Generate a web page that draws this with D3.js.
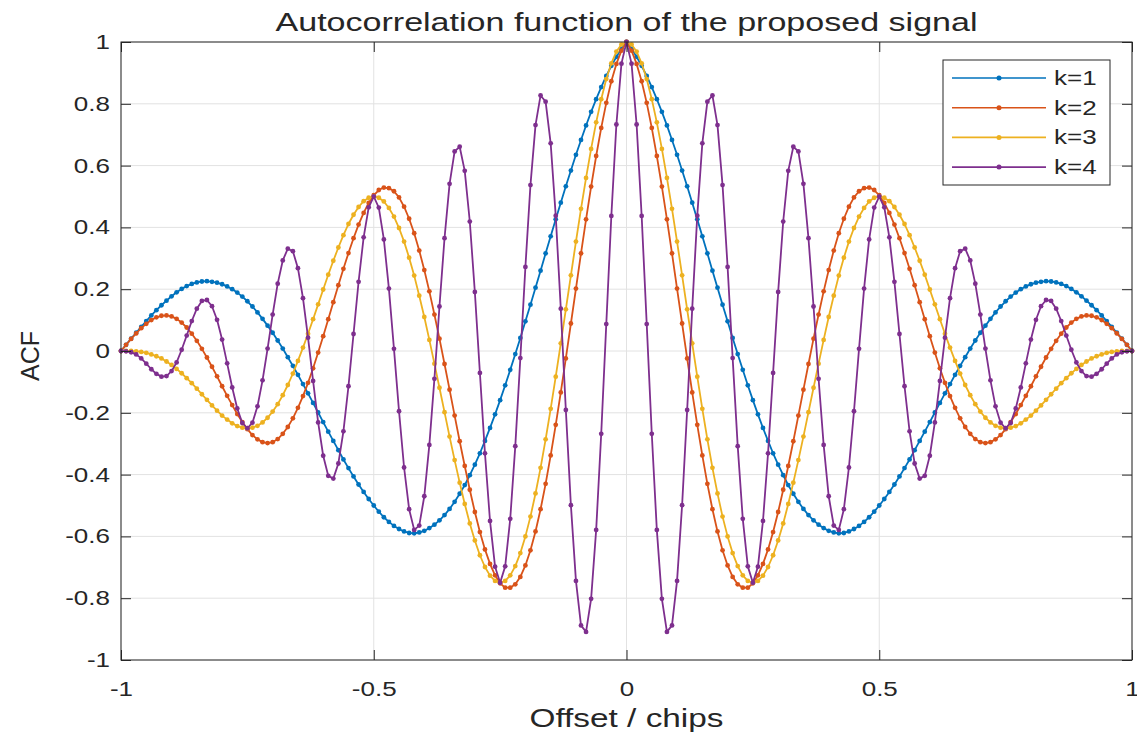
<!DOCTYPE html>
<html>
<head>
<meta charset="utf-8">
<script src="https://cdn.jsdelivr.net/npm/d3@7"></script>
<style>
  html, body { margin: 0; padding: 0; background: #fff; }
  svg text { font-family: "Liberation Sans", Arial, sans-serif; fill: #262626; }
</style>
</head>
<body>
<svg id="chart" width="1137" height="736"></svg>
<script>
// ===================================================================
// ACF of the proposed signal, k = 1..4
// ===================================================================
const TITLE = 'Autocorrelation function of the proposed signal';
const X_LABEL = 'Offset / chips';
const Y_LABEL = 'ACF';

const X_TICKS = [-1, -0.5, 0, 0.5, 1];
const Y_TICKS = [-1, -0.8, -0.6, -0.4, -0.2, 0, 0.2, 0.4, 0.6, 0.8, 1];

const SERIES_NAMES = ['k=1', 'k=2', 'k=3', 'k=4'];

// sample spacing of the offset axis (chips)
const OFFSET_STEP = 0.01;

const ACF_K1 = [
  1.000, 0.978, 0.952, 0.923, 0.890, 0.854, 0.815, 0.774, 0.730, 0.683,
  0.635, 0.584, 0.533, 0.480, 0.426, 0.371, 0.316, 0.260, 0.205, 0.150,
  0.096, 0.042, -0.010, -0.061, -0.111, -0.159, -0.205, -0.249, -0.291, -0.331,
  -0.368, -0.402, -0.434, -0.462, -0.488, -0.511, -0.531, -0.548, -0.562, -0.573,
  -0.582, -0.587, -0.590, -0.589, -0.584, -0.576, -0.566, -0.553, -0.538, -0.520,
  -0.500, -0.479, -0.456, -0.432, -0.406, -0.379, -0.351, -0.321, -0.291, -0.261,
  -0.230, -0.199, -0.168, -0.137, -0.107, -0.077, -0.048, -0.020, 0.008, 0.034,
  0.059, 0.082, 0.104, 0.125, 0.144, 0.161, 0.176, 0.189, 0.200, 0.209,
  0.216, 0.221, 0.224, 0.226, 0.225, 0.222, 0.217, 0.210, 0.201, 0.190,
  0.177, 0.163, 0.148, 0.132, 0.115, 0.097, 0.078, 0.059, 0.040, 0.020,
  0.000
];
const ACF_K2 = [
  1.000, 0.972, 0.929, 0.873, 0.803, 0.722, 0.631, 0.532, 0.426, 0.316,
  0.202, 0.089, -0.024, -0.134, -0.239, -0.338, -0.430, -0.512, -0.584, -0.645,
  -0.694, -0.731, -0.755, -0.766, -0.766, -0.752, -0.726, -0.689, -0.642, -0.586,
  -0.521, -0.449, -0.372, -0.292, -0.209, -0.125, -0.042, 0.040, 0.118, 0.193,
  0.262, 0.325, 0.381, 0.428, 0.467, 0.497, 0.517, 0.527, 0.529, 0.521,
  0.504, 0.479, 0.447, 0.409, 0.365, 0.317, 0.266, 0.213, 0.158, 0.103,
  0.048, -0.005, -0.056, -0.103, -0.146, -0.184, -0.218, -0.246, -0.268, -0.285,
  -0.295, -0.298, -0.295, -0.286, -0.272, -0.253, -0.230, -0.204, -0.175, -0.145,
  -0.114, -0.082, -0.051, -0.021, 0.007, 0.033, 0.056, 0.076, 0.092, 0.104,
  0.112, 0.115, 0.114, 0.109, 0.100, 0.088, 0.074, 0.057, 0.039, 0.020,
  0.000
];
const ACF_K3 = [
  1.000, 0.992, 0.969, 0.931, 0.880, 0.815, 0.740, 0.654, 0.560, 0.460,
  0.354, 0.245, 0.135, 0.025, -0.083, -0.187, -0.286, -0.378, -0.461, -0.536,
  -0.600, -0.654, -0.696, -0.726, -0.744, -0.750, -0.744, -0.727, -0.699, -0.661,
  -0.613, -0.558, -0.495, -0.426, -0.353, -0.277, -0.198, -0.119, -0.041, 0.036,
  0.110, 0.179, 0.244, 0.302, 0.354, 0.398, 0.435, 0.463, 0.484, 0.496,
  0.500, 0.496, 0.485, 0.466, 0.441, 0.411, 0.375, 0.335, 0.292, 0.247,
  0.199, 0.151, 0.103, 0.056, 0.011, -0.032, -0.073, -0.110, -0.143, -0.172,
  -0.196, -0.216, -0.231, -0.242, -0.248, -0.250, -0.248, -0.243, -0.234, -0.222,
  -0.209, -0.193, -0.176, -0.158, -0.140, -0.122, -0.104, -0.088, -0.072, -0.058,
  -0.045, -0.034, -0.024, -0.017, -0.011, -0.006, -0.003, -0.001, 0.000, 0.000,
  0.000
];
const ACF_K4 = [
  1.000, 0.930, 0.733, 0.437, 0.087, -0.268, -0.579, -0.802, -0.909, -0.888,
  -0.744, -0.499, -0.191, 0.137, 0.438, 0.672, 0.807, 0.827, 0.731, 0.537,
  0.272, -0.023, -0.308, -0.543, -0.697, -0.750, -0.698, -0.550, -0.331, -0.071,
  0.191, 0.419, 0.583, 0.661, 0.646, 0.541, 0.365, 0.144, -0.090, -0.304,
  -0.470, -0.565, -0.579, -0.512, -0.377, -0.195, 0.007, 0.202, 0.361, 0.464,
  0.500, 0.465, 0.368, 0.224, 0.055, -0.114, -0.260, -0.364, -0.413, -0.404,
  -0.339, -0.231, -0.097, 0.043, 0.171, 0.268, 0.323, 0.331, 0.293, 0.218,
  0.118, 0.008, -0.095, -0.179, -0.232, -0.250, -0.233, -0.186, -0.118, -0.040,
  0.037, 0.101, 0.145, 0.165, 0.162, 0.137, 0.097, 0.050, 0.004, -0.037,
  -0.065, -0.081, -0.083, -0.074, -0.059, -0.041, -0.024, -0.011, -0.004, -0.001,
  0.000
];

const COLORS = ['#0072BD', '#D95319', '#EDB120', '#7E2F8E'];

// plot box in page pixels
const PLOT = { left: 121, right: 1132, top: 42, bottom: 660 };
const TICK_LEN = 10;
const TEXT_STRETCH = 1.3;   // the reference glyphs are drawn wide

// even function: mirror the 0..1 half onto -1..0
function mirror(half) {
  return half.slice(1).reverse().concat(half);
}

function stretch(sel, f) {
  sel.each(function () {
    const w = this.getComputedTextLength();
    d3.select(this).attr('textLength', w * f).attr('lengthAdjust', 'spacingAndGlyphs');
  });
}

const halves = [ACF_K1, ACF_K2, ACF_K3, ACF_K4];
const nPts = ACF_K1.length * 2 - 1;
const offsets = d3.range(nPts).map(i => +(-1 + i * OFFSET_STEP).toFixed(2));

const series = SERIES_NAMES.map((name, i) => {
  const vals = mirror(halves[i]);
  return { name, color: COLORS[i], points: offsets.map((o, j) => ({ x: o, y: vals[j] })) };
});

const svg = d3.select('#chart');

const x = d3.scaleLinear().domain([-1, 1]).range([PLOT.left, PLOT.right]);
const y = d3.scaleLinear().domain([-1, 1]).range([PLOT.bottom, PLOT.top]);

// grid
const grid = svg.append('g').attr('class', 'grid');
grid.selectAll('.gx').data(X_TICKS).join('line')
  .attr('x1', d => x(d)).attr('x2', d => x(d))
  .attr('y1', PLOT.top).attr('y2', PLOT.bottom)
  .attr('stroke', '#e2e2e2').attr('stroke-width', 1);
grid.selectAll('.gy').data(Y_TICKS).join('line')
  .attr('x1', PLOT.left).attr('x2', PLOT.right)
  .attr('y1', d => y(d)).attr('y2', d => y(d))
  .attr('stroke', '#e2e2e2').attr('stroke-width', 1);

// series
const line = d3.line().x(d => x(d.x)).y(d => y(d.y));
const plotG = svg.append('g').attr('class', 'series');
series.forEach(s => {
  const g = plotG.append('g');
  g.append('path')
    .datum(s.points)
    .attr('d', line)
    .attr('fill', 'none')
    .attr('stroke', s.color)
    .attr('stroke-width', 1.8)
    .attr('stroke-linejoin', 'round');
  g.selectAll('circle').data(s.points).join('circle')
    .attr('cx', d => x(d.x))
    .attr('cy', d => y(d.y))
    .attr('r', 2.4)
    .attr('fill', s.color);
});

// axes (ticks pointing inward, MATLAB style)
const fmt = d => String(d);
const axB = svg.append('g')
  .attr('transform', `translate(0,${PLOT.bottom})`)
  .call(d3.axisBottom(x).tickValues(X_TICKS).tickFormat(fmt)
    .tickSizeInner(-TICK_LEN).tickSizeOuter(0).tickPadding(22));
const axL = svg.append('g')
  .attr('transform', `translate(${PLOT.left},0)`)
  .call(d3.axisLeft(y).tickValues(Y_TICKS).tickFormat(fmt)
    .tickSizeInner(-TICK_LEN).tickSizeOuter(0).tickPadding(11));
const axT = svg.append('g')
  .attr('transform', `translate(0,${PLOT.top})`)
  .call(d3.axisTop(x).tickValues(X_TICKS).tickFormat('')
    .tickSizeInner(-TICK_LEN).tickSizeOuter(0));
const axR = svg.append('g')
  .attr('transform', `translate(${PLOT.right},0)`)
  .call(d3.axisRight(y).tickValues(Y_TICKS).tickFormat('')
    .tickSizeInner(-TICK_LEN).tickSizeOuter(0));

[axB, axL, axT, axR].forEach(a => {
  a.select('.domain').remove();
  a.selectAll('.tick line').attr('stroke', '#262626');
});
[axB, axL].forEach(a => {
  a.selectAll('.tick text')
    .attr('fill', '#262626')
    .style('font-family', '"Liberation Sans", Arial, sans-serif')
    .style('font-size', '20px');
});
stretch(axB.selectAll('.tick text'), TEXT_STRETCH);
stretch(axL.selectAll('.tick text'), TEXT_STRETCH);

// box
svg.append('rect')
  .attr('x', PLOT.left).attr('y', PLOT.top)
  .attr('width', PLOT.right - PLOT.left).attr('height', PLOT.bottom - PLOT.top)
  .attr('fill', 'none').attr('stroke', '#262626').attr('stroke-width', 1);

// title + labels
svg.append('text')
  .attr('x', (PLOT.left + PLOT.right) / 2).attr('y', 31)
  .attr('text-anchor', 'middle')
  .attr('textLength', 702).attr('lengthAdjust', 'spacingAndGlyphs')
  .style('font-size', '26px')
  .text(TITLE);

svg.append('text')
  .attr('x', (PLOT.left + PLOT.right) / 2).attr('y', 727)
  .attr('text-anchor', 'middle')
  .attr('textLength', 194).attr('lengthAdjust', 'spacingAndGlyphs')
  .style('font-size', '25px')
  .text(X_LABEL);

svg.append('text')
  .attr('transform', `translate(39,356) rotate(-90)`)
  .attr('text-anchor', 'middle')
  .style('font-size', '25px')
  .text(Y_LABEL);

// legend
const LEG = { x: 943, y: 60, w: 167, h: 125, row0: 78, rowH: 29.7 };
const leg = svg.append('g').attr('class', 'legend');
leg.append('rect')
  .attr('x', LEG.x).attr('y', LEG.y).attr('width', LEG.w).attr('height', LEG.h)
  .attr('fill', '#fff').attr('stroke', '#262626').attr('stroke-width', 1);
series.forEach((s, i) => {
  const ry = LEG.row0 + i * LEG.rowH;
  leg.append('line')
    .attr('x1', 952).attr('x2', 1046).attr('y1', ry).attr('y2', ry)
    .attr('stroke', s.color).attr('stroke-width', 1.6);
  leg.append('circle').attr('cx', 999).attr('cy', ry).attr('r', 2.5).attr('fill', s.color);
  const t = leg.append('text')
    .attr('x', 1054).attr('y', ry).attr('dy', '0.35em')
    .style('font-size', '20px')
    .text(s.name);
  stretch(t, TEXT_STRETCH);
});
</script>
</body>
</html>
